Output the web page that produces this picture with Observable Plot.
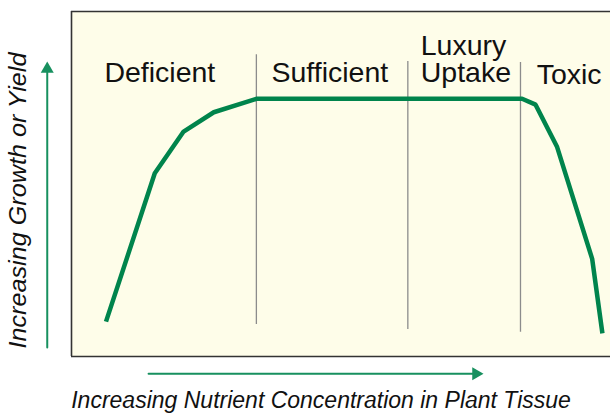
<!DOCTYPE html>
<html>
<head>
<meta charset="utf-8">
<script src="https://cdn.jsdelivr.net/npm/d3@7"></script>
<script src="https://cdn.jsdelivr.net/npm/@observablehq/plot@0.6"></script>
<style>
  html, body { margin: 0; padding: 0; background: #ffffff; }
  #chart svg { display: block; }
</style>
</head>
<body>
<div id="chart"></div>
<script>
// Nutrient concentration (relative units 0-100) vs growth/yield (relative units 0-100)
const curveX = [6.4, 15.45, 20.8, 26.4, 34.3, 83.6, 86.1, 90.1, 96.6, 98.5];
const curveY = [10.1, 53.1, 65.2, 70.8, 74.7, 74.7, 73.0, 60.7, 28.3, 6.7];

// Zone boundaries
const boundaryX  = [34.3, 62.4, 83.3];
const boundaryY1 = [9.3, 7.8, 7.0];
const boundaryY2 = [87.5, 85.5, 85.2];

// Zone labels
const zoneNames  = ["Deficient", "Sufficient", "Luxury\nUptake", "Toxic"];
const zoneLabelX = [6.1, 37.1, 64.8, 86.3];
const zoneLabelY = [79.7, 79.6, 79.5, 79.0];

// Axis titles
const xTitle = "Increasing Nutrient Concentration in Plant Tissue";
const yTitle = "Increasing Growth or Yield";

const curve = curveX.map((x, i) => ({x, y: curveY[i]}));
const boundaries = boundaryX.map((x, i) => ({x, y1: boundaryY1[i], y2: boundaryY2[i]}));
const zones = zoneNames.map((name, i) => ({name, x: zoneLabelX[i], y: zoneLabelY[i]}));

const green = "#00844c";
const arrowGreen = "#17905f";
const font = "'Liberation Sans', Arial, Helvetica, sans-serif";

const chart = Plot.plot({
  width: 610,
  height: 414,
  marginLeft: 71,
  marginRight: 0,
  marginTop: 11,
  marginBottom: 58,
  x: {domain: [0, 100], axis: null},
  y: {domain: [0, 100], axis: null},
  style: {fontFamily: font, background: "#ffffff", overflow: "visible"},
  marks: [
    Plot.frame({fill: "#fefde9", stroke: null}),
    // zone boundaries
    Plot.ruleX(boundaries, {x: "x", y1: "y1", y2: "y2", stroke: "#8c8c8c", strokeWidth: 1.3}),
    // response curve
    Plot.line(curve, {x: "x", y: "y", stroke: green, strokeWidth: 4.5, strokeLinejoin: "miter", strokeLinecap: "butt"}),
    // borders (top, bottom, left)
    Plot.ruleY([0, 100], {stroke: "#333333", strokeWidth: 1.6}),
    Plot.ruleX([0], {stroke: "#333333", strokeWidth: 1.6}),
    // zone labels
    Plot.text(zones, {x: "x", y: "y", text: "name", textAnchor: "start", lineAnchor: "bottom",
      lineHeight: 0.96, fontSize: 28.5, fill: "#111111"}),
    // y arrow
    Plot.line([{x: -4.5, y: 2.6}, {x: -4.5, y: 82.5}], {x: "x", y: "y", stroke: arrowGreen, strokeWidth: 2}),
    Plot.dot([{x: -4.5, y: 83.3}], {x: "x", y: "y", symbol: "triangle", r: 4.82, fill: arrowGreen, stroke: null}),
    // x arrow
    Plot.line([{x: 14.3, y: -5.0}, {x: 74.6, y: -5.0}], {x: "x", y: "y", stroke: arrowGreen, strokeWidth: 2}),
    Plot.dot([{x: 75.05, y: -5.0}], {x: "x", y: "y", symbol: "triangle", r: 4.82, rotate: 90, fill: arrowGreen, stroke: null}),
    // axis titles
    Plot.text([xTitle], {x: 46.3, y: -14.8, text: d => d, textAnchor: "middle", lineAnchor: "bottom",
      fontSize: 23, fontStyle: "italic", fill: "#111111"}),
    Plot.text([yTitle], {x: -8.4, y: 45.2, text: d => d, rotate: -90, textAnchor: "middle", lineAnchor: "bottom",
      fontSize: 23, fontStyle: "italic", fill: "#111111", className: "ytitle"})
  ]
});

// stretch the y title to the reference length
d3.select(chart).selectAll("g.ytitle text").attr("textLength", 296).attr("lengthAdjust", "spacingAndGlyphs");

document.getElementById("chart").appendChild(chart);
</script>
</body>
</html>
